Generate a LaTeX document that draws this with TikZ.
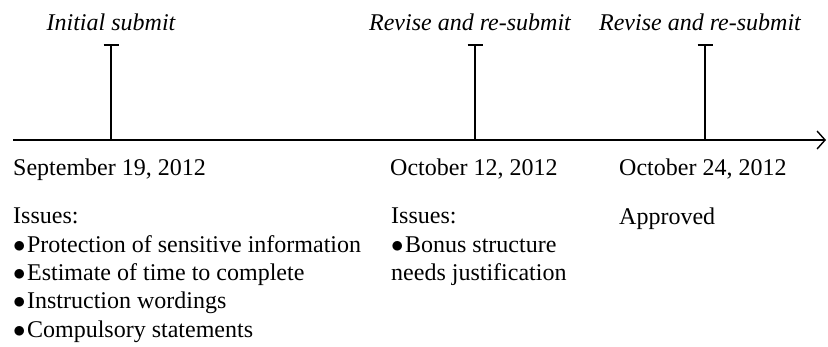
\documentclass[tikz,border=0pt]{standalone}
\usepackage{fontspec}
\setmainfont{Liberation Serif}
\usepackage{tikz}
\usetikzlibrary{arrows.meta,positioning}
\newcommand{\textsize}{\fontsize{24}{28.3}\selectfont}
\newcommand{\dotitem}{$\bullet$\hspace{1.5pt}}
\tikzstyle{axis} = [draw, line width=1.8pt, -{Straight Barb[length=8pt, width=18pt, line width=1.4pt]}]
\tikzstyle{tick} = [draw, line width=1.5pt, -{Bar[width=15pt, line width=1.5pt]}]
\tikzstyle{event} = [inner sep=0pt, font=\textsize\itshape]
\tikzstyle{date} = [inner sep=0pt, anchor=base west]
\tikzstyle{issues} = [inner sep=0pt, anchor=north west, align=left]

\begin{document}
\begin{tikzpicture}[x=1pt, y=1pt, font=\textsize]
\useasboundingbox (0,0) rectangle (828,-346);

% time axis
\coordinate (start) at (13,-140);
\coordinate (end) at (826,-140);
\path[axis] (start) -- (end);

% ticks
\coordinate (b1) at (111,-140);
\coordinate (b2) at (475,-140);
\coordinate (b3) at (705,-140);
\coordinate (t1) at (111,-44);
\coordinate (t2) at (475,-44);
\coordinate (t3) at (705,-44);
\path[tick] (b1) -- (t1);
\path[tick] (b2) -- (t2);
\path[tick] (b3) -- (t3);

% events
\node[event, above=14pt of t1, anchor=base] (initial) {Initial submit};
\node[event, above=14pt of t2, anchor=base, xshift=-5pt] (revise1) {Revise and re-submit};
\node[event, above=14pt of t3, anchor=base, xshift=-5pt] (revise2) {Revise and re-submit};

% dates
\node[date] (sep19) at (13,-175) {September 19, 2012};
\node[date] (oct12) at (390,-175) {October 12, 2012};
\node[date] (oct24) at (619,-175) {October 24, 2012};

% outcomes
\node[issues] (issues1) at (13,-208) {Issues:\\ \dotitem Protection of sensitive information\\ \dotitem Estimate of time to complete\\ \dotitem Instruction wordings\\ \dotitem Compulsory statements};
\node[issues] (issues2) at (391,-208) {Issues:\\ \dotitem Bonus structure\\ needs justification};
\node[issues] (approved) at (619,-207.5) {Approved};

\end{tikzpicture}
\end{document}
